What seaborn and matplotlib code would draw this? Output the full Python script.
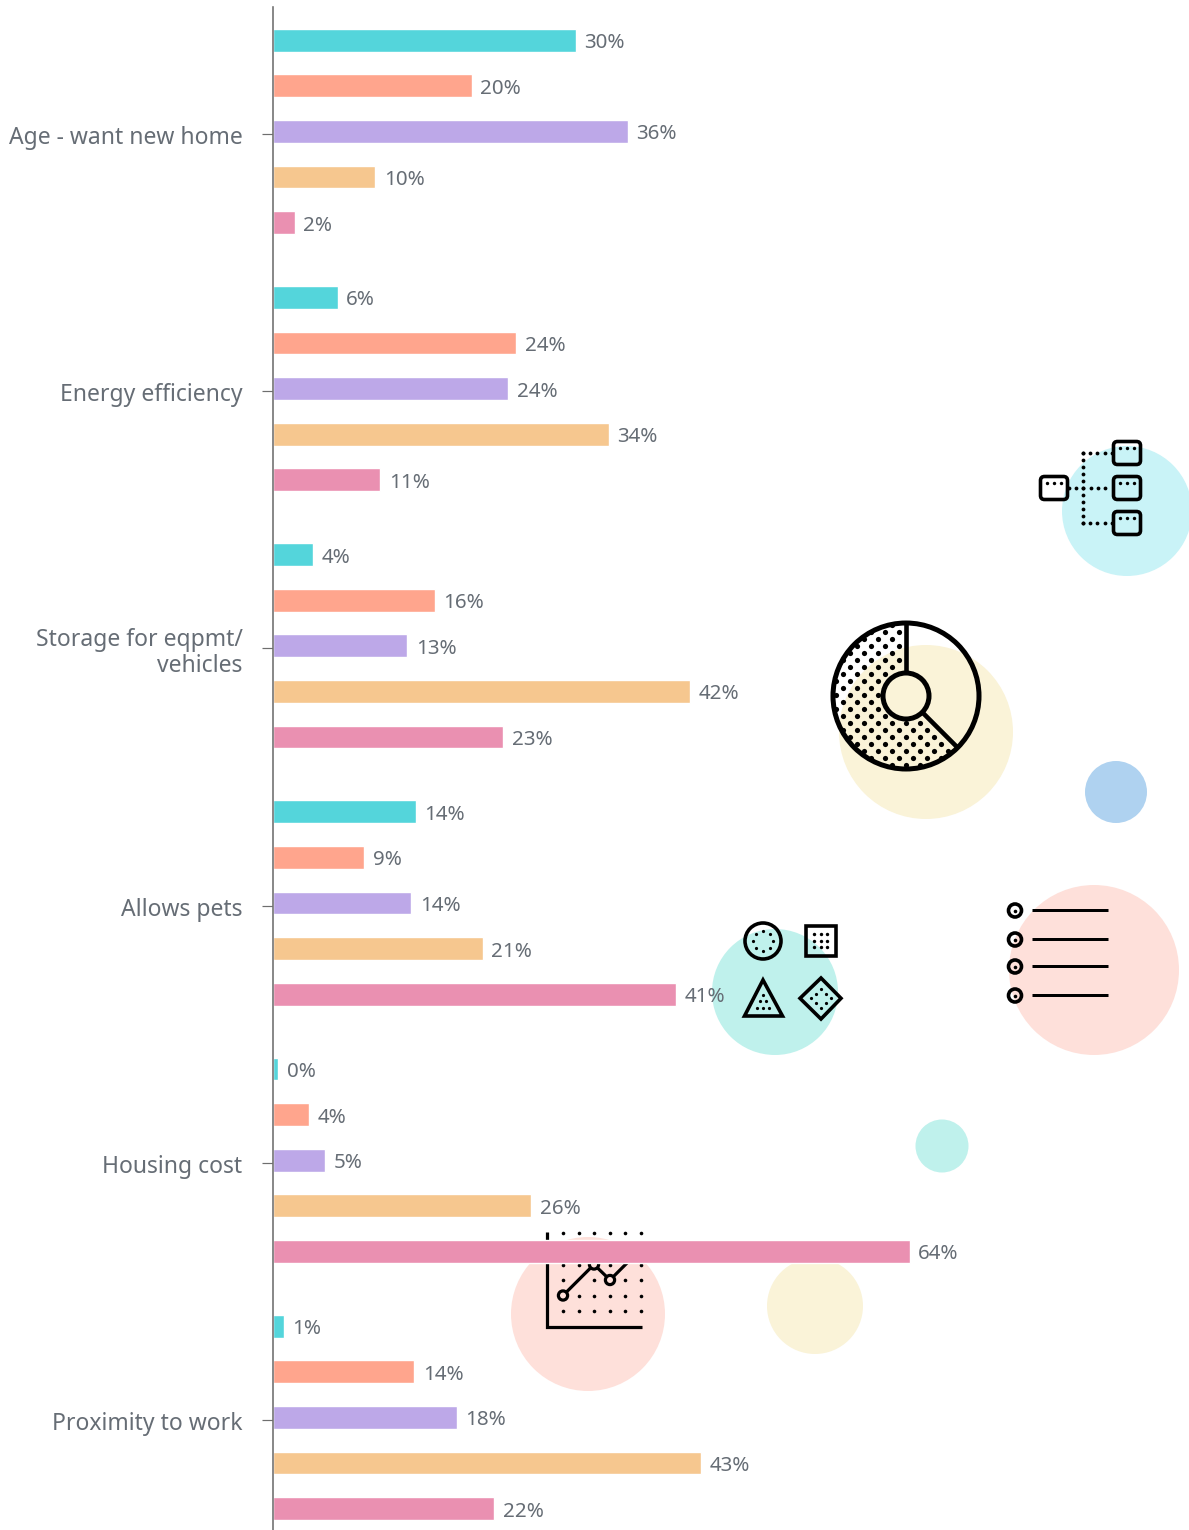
import numpy as np
import pandas as pd
import matplotlib
matplotlib.use("Agg")
import matplotlib.pyplot as plt
from matplotlib.patches import Circle, FancyBboxPatch, Rectangle, Polygon
from matplotlib.transforms import ScaledTranslation
import seaborn as sns

factors = ["Age - want new home", "Energy efficiency", "Storage for eqpmt/\nvehicles",
           "Allows pets", "Housing cost", "Proximity to work"]
series = ["Series A", "Series B", "Series C", "Series D", "Series E"]
palette = ["#54d5db", "#ffa58d", "#bda8e8", "#f6c78f", "#ea90b1"]
series_a = [30.5, 6.5, 4.0, 14.4, 0.5, 1.1]
series_b = [20.0, 24.5, 16.3, 9.2, 3.6, 14.2]
series_c = [35.7, 23.7, 13.5, 13.9, 5.2, 18.5]
series_d = [10.3, 33.8, 42.0, 21.1, 26.0, 43.1]
series_e = [2.2, 10.8, 23.2, 40.6, 64.1, 22.3]
labels_a = ["30%", "6%", "4%", "14%", "0%", "1%"]
labels_b = ["20%", "24%", "16%", "9%", "4%", "14%"]
labels_c = ["36%", "24%", "13%", "14%", "5%", "18%"]
labels_d = ["10%", "34%", "42%", "21%", "26%", "43%"]
labels_e = ["2%", "11%", "23%", "41%", "64%", "22%"]

W, H = 1189, 1530
TXT = "#666d75"
FONT = "Noto Sans"
sns.set_theme(style="white")
plt.rcParams["font.family"] = [FONT, "DejaVu Sans"]

fig = plt.figure(figsize=(W / 100, H / 100), dpi=100, facecolor="white")

# ---------- decorative backdrop, in pixel coordinates ----------
bg = fig.add_axes([0, 0, 1, 1], zorder=0)
bg.set_xlim(0, W)
bg.set_ylim(H, 0)
bg.axis("off")
PX = 0.72
for cx, cy, r, c in [(1127, 511, 65, "#c9f3f7"), (926, 732, 87, "#faf3d8"), (1116, 792, 31, "#afd2f0"),
                     (1094, 970, 85, "#fee0da"), (775, 992, 63, "#bff1ec"), (942, 1146, 26.5, "#bff1ec"),
                     (815, 1306, 48, "#faf3d8"), (588, 1314, 77, "#fee0da")]:
    bg.add_patch(Circle((cx, cy), r, fc=c, ec="none", zorder=1))

def dots(xs, ys, s=2.0):
    bg.scatter(xs, ys, s=(s * 2 * PX) ** 2, c="black", linewidths=0, zorder=3)

def line(xs, ys, w=3.0):
    bg.plot(xs, ys, color="black", lw=w * PX, solid_capstyle="butt", solid_joinstyle="miter", zorder=4)

def ring(cx, cy, r, w=3.0, fc="none"):
    bg.add_patch(Circle((cx, cy), r, fc=fc, ec="black", lw=w * PX, zorder=5))

# tree icon
for cx, cy in [(1054, 488), (1127, 453), (1127, 488), (1127, 523)]:
    bg.add_patch(FancyBboxPatch((cx - 11.5, cy - 9.5), 23, 19, boxstyle="round,pad=2,rounding_size=4",
                                fc="none", ec="black", lw=3.6 * PX, zorder=5))
    dots([cx - 7, cx, cx + 7], [cy - 5, cy - 5, cy - 5], 1.7)
dots(np.full(11, 1083), np.linspace(453, 523, 11), 1.9)
for yy, x0 in [(453, 1083), (488, 1069), (523, 1083)]:
    xs = np.arange(x0, 1112, 7.2)
    dots(xs, np.full(len(xs), yy), 1.9)

# donut icon
dcx, dcy = 906, 696
pts = []
for row, yy in enumerate(np.arange(dcy - 71, dcy + 74, 7.0)):
    off = 0 if row % 2 == 0 else 7.0
    for xx in np.arange(dcx - 84 + off, dcx + 84, 14.0):
        dx, dy = xx - dcx, yy - dcy
        rr = np.hypot(dx, dy)
        ang = np.degrees(np.arctan2(dy, dx)) % 360   # clockwise from east on screen
        if 24 < rr < 73 and 46 < ang < 268:
            pts.append((xx, yy))
pts = np.array(pts)
dots(pts[:, 0], pts[:, 1], 2.6)
ring(dcx, dcy, 73, 5)
ring(dcx, dcy, 23, 5)
line([906, 906], [623, 673], 4.6)
line([922, 958], [712, 748], 4.6)

# shapes icon
ring(763, 941, 18, 3.6)
ang8 = np.radians(np.arange(0, 360, 45))
dots(763 + 10 * np.cos(ang8), 941 + 10 * np.sin(ang8), 1.6)
bg.add_patch(Rectangle((806, 926), 30, 30, fc="none", ec="black", lw=3.6 * PX, zorder=5))
dots(np.repeat([814.3, 820.7, 827.3], 3), np.tile([934.3, 940.7, 947], 3), 1.7)
bg.add_patch(Polygon([(763, 980), (744.5, 1016), (782.5, 1016)], closed=True, fc="none", ec="black", lw=3.6 * PX, zorder=5))
dots([763, 760, 766.3, 756.7, 763, 769.3], [995, 1001.3, 1001.3, 1007.7, 1007.7, 1007.7], 1.6)
bg.add_patch(Polygon([(821, 978), (841, 998.3), (821, 1019), (800, 998.3)], closed=True, fc="none", ec="black", lw=3.6 * PX, zorder=5))
dots([821, 816, 826, 811, 830.7, 816, 826, 821], [989, 993.7, 993.7, 998.3, 998.3, 1003, 1003, 1007.7], 1.6)

# list icon
for yy in [910.5, 939.5, 966.5, 995.5]:
    ring(1015, yy, 6.5, 3.6)
    dots([1015], [yy], 1.8)
    line([1032, 1108], [yy - 0.5, yy - 0.5], 3)

# line-chart icon
gx = [563, 578.5, 594, 610, 625, 641]
for yy, xs in [(1233, gx), (1249, gx), (1264.5, [563, 578.5, 610, 641]),
               (1280, [563, 594, 625, 641]), (1295.5, [578.5, 594, 610, 625, 641]), (1311, gx)]:
    dots(xs, [yy] * len(xs), 1.8)
line([547, 547, 642], [1232, 1327, 1327], 3.2)
line([563, 594, 610, 641], [1295.5, 1264.5, 1280, 1249], 3.2)
for cx, cy in [(563, 1295.5), (594, 1264.5), (610, 1280)]:
    ring(cx, cy, 4.6, 3.2, fc="#fee0da")

# ---------- main chart ----------
x0_px = 273.0
ax = fig.add_axes([x0_px / W, 0, 1 - x0_px / W, 1], zorder=2)
ax.patch.set_alpha(0)
df = pd.DataFrame({
    "factor": factors * 5,
    "series": np.repeat(series, 6),
    "value": series_a + series_b + series_c + series_d + series_e,
})
sns.barplot(data=df, y="factor", x="value", hue="series", order=factors, hue_order=series,
            palette=palette, width=0.8865, gap=0.5, dodge=True, saturation=1, legend=False, ax=ax, errorbar=None)

px_per_unit = 257.2
tick0 = 134
ax.set_ylim((H - tick0) / px_per_unit, -tick0 / px_per_unit)
ax.set_xlim(0, (W - x0_px) / 9.93)

shift = 2.6 / px_per_unit
for cont, labs in zip(ax.containers, [labels_a, labels_b, labels_c, labels_d, labels_e]):
    for p in cont:
        p.set_y(p.get_y() - shift)
    for a in ax.bar_label(cont, labels=labs, padding=6.2, color=TXT, fontsize=14.8, fontfamily=FONT):
        a.xyann = (a.xyann[0], -2.1)

ax.set_xlabel("")
ax.set_ylabel("")
ax.xaxis.set_visible(False)
for s in ["top", "right", "bottom"]:
    ax.spines[s].set_visible(False)
ax.spines["left"].set_color("#6e6e6e")
ax.spines["left"].set_linewidth(1.6 * PX)
ax.spines["left"].set_bounds((7 - tick0) / px_per_unit, (H - tick0) / px_per_unit)
ax.tick_params(axis="y", left=True, length=8, width=1.2 * PX, color="#6e6e6e", pad=14, labelcolor=TXT, labelsize=16.5)
down = ScaledTranslation(0, -1 / 100, fig.dpi_scale_trans)
for t in ax.get_yticklabels():
    t.set_ha("right")
    t.set_linespacing(1.1)
    t.set_transform(t.get_transform() + down)

fig.savefig("out.png", dpi=100, facecolor="white")
